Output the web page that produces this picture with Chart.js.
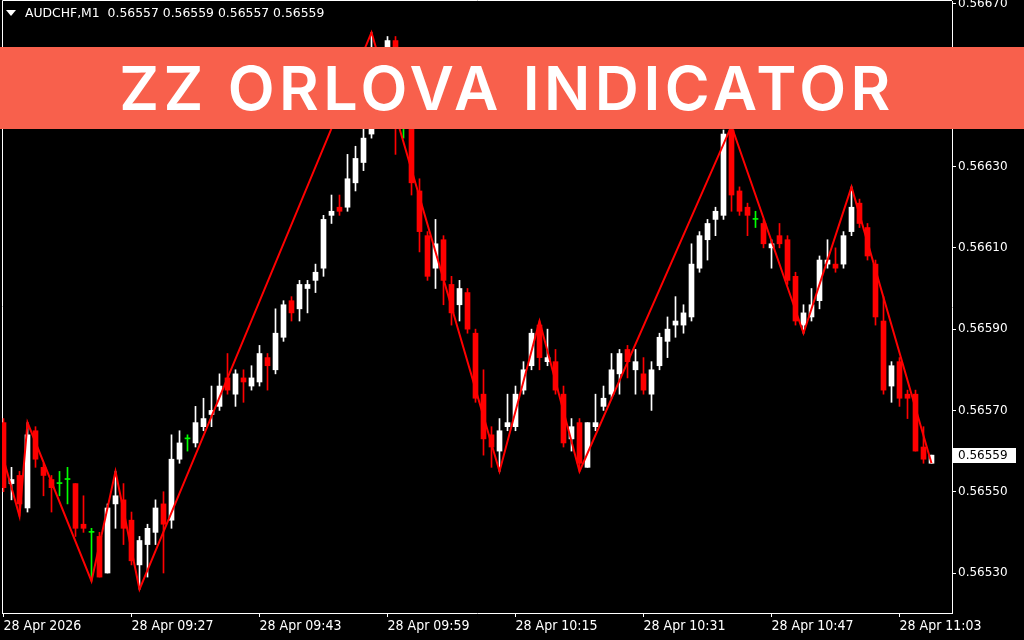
<!DOCTYPE html>
<html>
<head>
<meta charset="utf-8">
<script src="https://cdn.jsdelivr.net/npm/chart.js@4.4.1/dist/chart.umd.min.js"></script>
<style>
  html, body { margin: 0; padding: 0; background: #000; }
  #wrap { position: relative; width: 1024px; height: 640px; overflow: hidden; background: #000; }
  #c { position: absolute; left: 0; top: 0; }
  #hdr { position: absolute; left: 25px; top: 5px; color: #fff; font: 12.4px "DejaVu Sans", sans-serif; line-height: 16px; white-space: pre; }
  #tri { position: absolute; left: 6px; top: 10px; width: 0; height: 0; border-left: 5px solid transparent; border-right: 5px solid transparent; border-top: 6px solid #fff; }
  #banner { position: absolute; left: 0; top: 47px; width: 1024px; height: 82px; background: #f8604c; color: #fff;
            font: 600 61px Inter, "Open Sans", sans-serif; letter-spacing: 4.5px; line-height: 82px; text-align: center; box-sizing: border-box; padding-right: 10px; }
</style>
</head>
<body>
<div id="wrap">
  <canvas id="c" width="1024" height="640"></canvas>
  <div id="tri"></div>
  <div id="hdr"></div>
  <div id="banner">ZZ ORLOVA INDICATOR</div>
</div>
<script>
// ---- data ----
const symbol = 'AUDCHF';
const timeframe = 'M1';
const times = ('09:11 09:12 09:13 09:14 09:15 09:16 09:17 09:18 09:19 09:20 09:21 09:22 09:23 09:24 09:25 09:26 09:27 09:28 09:29 09:30 ' +
  '09:31 09:32 09:33 09:34 09:35 09:36 09:37 09:38 09:39 09:40 09:41 09:42 09:43 09:44 09:45 09:46 09:47 09:48 09:49 09:50 ' +
  '09:51 09:52 09:53 09:54 09:55 09:56 09:57 09:58 09:59 10:00 10:01 10:02 10:03 10:04 10:05 10:06 10:07 10:08 10:09 10:10 ' +
  '10:11 10:12 10:13 10:14 10:15 10:16 10:17 10:18 10:19 10:20 10:21 10:22 10:23 10:24 10:25 10:26 10:27 10:28 10:29 10:30 ' +
  '10:31 10:32 10:33 10:34 10:35 10:36 10:37 10:38 10:39 10:40 10:41 10:42 10:43 10:44 10:45 10:46 10:47 10:48 10:49 10:50 ' +
  '10:51 10:52 10:53 10:54 10:55 10:56 10:57 10:58 10:59 11:00 11:01 11:02 11:03 11:04 11:05 11:06 11:07').split(' ');

const opens = [0.56567,0.56552,0.56554,0.56546,0.56565,0.56556,0.56553,0.56552,0.56553,0.56552,
0.56542,0.56540,0.56539,0.56530,0.56547,0.56548,0.56543,0.56532,0.56537,0.56540,
0.56547,0.56543,0.56558,0.56563,0.56562,0.56566,0.56569,0.56571,0.56578,0.56574,
0.56578,0.56576,0.56577,0.56583,0.56580,0.56588,0.56597,0.56595,0.56600,0.56602,
0.56605,0.56618,0.56620,0.56620,0.56626,0.56631,0.56638,0.56656,0.56653,0.56661,
0.56640,0.56641,0.56624,0.56613,0.56605,0.56612,0.56601,0.56596,0.56599,0.56589,
0.56574,0.56564,0.56560,0.56566,0.56566,0.56575,0.56581,0.56591,0.56582,0.56582,
0.56574,0.56563,0.56567,0.56556,0.56566,0.56571,0.56574,0.56579,0.56585,0.56580,
0.56579,0.56574,0.56581,0.56587,0.56591,0.56591,0.56593,0.56605,0.56612,0.56617,
0.56618,0.56639,0.56624,0.56620,0.56617,0.56616,0.56610,0.56613,0.56612,0.56603,
0.56591,0.56593,0.56597,0.56606,0.56606,0.56606,0.56614,0.56621,0.56615,0.56606,
0.56592,0.56576,0.56582,0.56574,0.56574,0.56561,0.56557];

const highs = [0.56568,0.56556,0.56555,0.56567,0.56566,0.56557,0.56554,0.56555,0.56556,0.56552,
0.56549,0.56541,0.56540,0.56547,0.56555,0.56552,0.56545,0.56539,0.56542,0.56548,
0.56550,0.56564,0.56565,0.56564,0.56571,0.56573,0.56576,0.56579,0.56584,0.56580,
0.56580,0.56581,0.56586,0.56584,0.56595,0.56597,0.56598,0.56602,0.56602,0.56606,
0.56618,0.56623,0.56623,0.56633,0.56635,0.56640,0.56663,0.56659,0.56662,0.56662,
0.56643,0.56642,0.56627,0.56614,0.56617,0.56613,0.56603,0.56602,0.56600,0.56590,
0.56580,0.56566,0.56568,0.56574,0.56576,0.56582,0.56590,0.56592,0.56590,0.56585,
0.56576,0.56568,0.56568,0.56567,0.56574,0.56576,0.56584,0.56585,0.56586,0.56585,
0.56583,0.56582,0.56589,0.56593,0.56598,0.56596,0.56611,0.56614,0.56617,0.56620,
0.56639,0.56640,0.56625,0.56621,0.56619,0.56617,0.56612,0.56616,0.56613,0.56604,
0.56596,0.56600,0.56608,0.56612,0.56610,0.56614,0.56625,0.56622,0.56616,0.56607,
0.56598,0.56582,0.56583,0.56575,0.56575,0.56566,0.56559];

const lows = [0.56550,0.56548,0.56544,0.56545,0.56556,0.56549,0.56545,0.56549,0.56547,0.56539,
0.56540,0.56528,0.56529,0.56530,0.56541,0.56537,0.56532,0.56526,0.56529,0.56537,
0.56530,0.56541,0.56557,0.56560,0.56561,0.56565,0.56566,0.56570,0.56574,0.56571,
0.56572,0.56575,0.56576,0.56575,0.56579,0.56587,0.56592,0.56592,0.56594,0.56599,
0.56603,0.56616,0.56618,0.56619,0.56624,0.56629,0.56637,0.56650,0.56651,0.56633,
0.56637,0.56623,0.56609,0.56602,0.56600,0.56596,0.56591,0.56592,0.56589,0.56572,
0.56559,0.56556,0.56555,0.56565,0.56565,0.56574,0.56580,0.56580,0.56581,0.56574,
0.56561,0.56560,0.56555,0.56556,0.56565,0.56570,0.56573,0.56574,0.56578,0.56574,
0.56574,0.56570,0.56580,0.56583,0.56588,0.56589,0.56592,0.56604,0.56607,0.56613,
0.56617,0.56619,0.56618,0.56613,0.56615,0.56610,0.56605,0.56610,0.56601,0.56591,
0.56589,0.56592,0.56595,0.56605,0.56604,0.56605,0.56613,0.56615,0.56607,0.56591,
0.56574,0.56572,0.56571,0.56568,0.56560,0.56557,0.56557];

const closes = [0.56551,0.56553,0.56547,0.56564,0.56558,0.56554,0.56551,0.56552,0.56553,0.56541,
0.56541,0.56540,0.56529,0.56546,0.56549,0.56541,0.56533,0.56538,0.56541,0.56546,
0.56542,0.56558,0.56562,0.56563,0.56567,0.56568,0.56570,0.56576,0.56575,0.56579,
0.56577,0.56578,0.56584,0.56581,0.56589,0.56596,0.56594,0.56601,0.56601,0.56604,
0.56617,0.56619,0.56619,0.56627,0.56632,0.56637,0.56657,0.56653,0.56661,0.56641,
0.56640,0.56626,0.56614,0.56603,0.56611,0.56602,0.56594,0.56600,0.56590,0.56573,
0.56563,0.56561,0.56565,0.56567,0.56574,0.56580,0.56589,0.56583,0.56583,0.56575,
0.56562,0.56566,0.56557,0.56567,0.56567,0.56573,0.56580,0.56584,0.56582,0.56582,
0.56575,0.56580,0.56588,0.56590,0.56592,0.56594,0.56606,0.56613,0.56616,0.56619,
0.56638,0.56623,0.56619,0.56618,0.56617,0.56611,0.56611,0.56611,0.56602,0.56592,
0.56594,0.56596,0.56607,0.56607,0.56605,0.56613,0.56620,0.56616,0.56608,0.56593,
0.56575,0.56581,0.56573,0.56573,0.56560,0.56558,0.56559];

// ZigZag pivots (bar index, price)
const zzIndex = [0, 2, 3, 11, 14, 17, 46, 62, 67, 72, 91, 100, 106, 116];
const zzValue = [0.56558, 0.56544, 0.56567, 0.56528, 0.56555, 0.56526, 0.56663, 0.56555, 0.56592, 0.56555, 0.56640, 0.56589, 0.56625, 0.56557];

const xTickIndex = [0, 16, 32, 48, 64, 80, 96, 112];
const xTickLabels = ['28 Apr 2026', '28 Apr 09:27', '28 Apr 09:43', '28 Apr 09:59', '28 Apr 10:15', '28 Apr 10:31', '28 Apr 10:47', '28 Apr 11:03'];
const yTicks = [0.5653, 0.5655, 0.5657, 0.5659, 0.5661, 0.5663, 0.5665, 0.5667];

// ---- styling ----
const BULL = '#ffffff', BEAR = '#ff0000', DOJI = '#00ff00';
const colorOf = i => closes[i] > opens[i] ? BULL : (closes[i] < opens[i] ? BEAR : DOJI);
const candleColors = times.map((t, i) => colorOf(i));

const last = closes.length - 1;
document.getElementById('hdr').textContent =
  symbol + ',' + timeframe + '  ' + [opens[last], highs[last], lows[last], closes[last]].map(v => v.toFixed(5)).join(' ');

const framePlugin = {
  id: 'frame',
  beforeDatasetsDraw(chart) {
    const { ctx, chartArea: a } = chart;
    ctx.save();
    ctx.strokeStyle = '#ffffff';
    ctx.lineWidth = 1;
    ctx.beginPath();
    ctx.moveTo(Math.round(a.left) + 0.5, Math.round(a.bottom));
    ctx.lineTo(Math.round(a.left) + 0.5, Math.round(a.top) - 0.5);
    ctx.lineTo(Math.round(a.right), Math.round(a.top) - 0.5);
    ctx.stroke();
    ctx.restore();
  }
};

const priceTagPlugin = {
  id: 'priceTag',
  afterDraw(chart) {
    const { ctx, chartArea: a } = chart;
    const y = Math.round(chart.scales.y.getPixelForValue(closes[last]));
    ctx.save();
    ctx.fillStyle = '#ffffff';
    ctx.fillRect(Math.round(a.right) + 1, y - 7, 63, 15);
    ctx.fillStyle = '#000000';
    ctx.font = '12px "DejaVu Sans", sans-serif';
    ctx.textBaseline = 'middle';
    ctx.textAlign = 'left';
    ctx.fillText(closes[last].toFixed(5), Math.round(a.right) + 6, y + 1);
    ctx.restore();
  }
};

new Chart(document.getElementById('c'), {
  data: {
    datasets: [
      {
        type: 'line',
        label: 'ZigZag',
        data: zzIndex.map((x, k) => ({ x: x, y: zzValue[k] })),
        borderColor: '#ff0000',
        borderWidth: 2,
        pointRadius: 0,
        tension: 0,
        fill: false,
        order: 1
      },
      {
        type: 'bar',
        label: 'Body',
        data: times.map((t, i) => ({ x: i, y: [opens[i], closes[i]] })),
        backgroundColor: candleColors,
        borderWidth: 0,
        barThickness: 5,
        minBarLength: 1,
        grouped: false,
        order: 2
      },
      {
        type: 'bar',
        label: 'Wick',
        data: times.map((t, i) => ({ x: i, y: [lows[i], highs[i]] })),
        backgroundColor: candleColors,
        borderWidth: 0,
        barThickness: 1,
        minBarLength: 1,
        grouped: false,
        order: 3
      }
    ]
  },
  options: {
    responsive: false,
    animation: false,
    devicePixelRatio: 1,
    layout: { padding: { left: 2, top: 1, right: 0, bottom: 0 } },
    plugins: { legend: { display: false }, tooltip: { enabled: false }, title: { display: false } },
    scales: {
      x: {
        type: 'linear',
        position: 'bottom',
        bounds: 'data',
        offset: false,
        min: -0.1875,
        max: 118.5625,
        afterFit: s => { s.height = 27; s.paddingLeft = 0; s.paddingRight = 0; },
        afterBuildTicks: s => { s.ticks = xTickIndex.map(v => ({ value: v })); },
        ticks: {
          callback: (v, idx) => xTickLabels[idx],
          align: 'start',
          maxRotation: 0,
          minRotation: 0,
          autoSkip: false,
          color: '#ffffff',
          padding: 1,
          font: { family: '"Liberation Sans Narrow", "DejaVu Sans Condensed", "DejaVu Sans", sans-serif', size: 14 }
        },
        grid: { display: true, offset: false, drawOnChartArea: false, drawTicks: true, tickLength: 4, color: '#ffffff', lineWidth: 1 },
        border: { display: true, color: '#ffffff', width: 1 }
      },
      y: {
        type: 'linear',
        position: 'right',
        bounds: 'data',
        min: 0.5652016,
        max: 0.56670738,
        afterFit: s => { s.width = 72; s.paddingTop = 0; s.paddingBottom = 0; },
        afterBuildTicks: s => { s.ticks = yTicks.map(v => ({ value: v })); },
        ticks: {
          callback: v => Number(v).toFixed(5),
          color: '#ffffff',
          padding: 2,
          font: { family: '"DejaVu Sans", sans-serif', size: 12 }
        },
        grid: { display: true, drawOnChartArea: false, drawTicks: true, tickLength: 4, color: '#ffffff', lineWidth: 1 },
        border: { display: true, color: '#ffffff', width: 1 }
      }
    }
  },
  plugins: [framePlugin, priceTagPlugin]
});
</script>
</body>
</html>
